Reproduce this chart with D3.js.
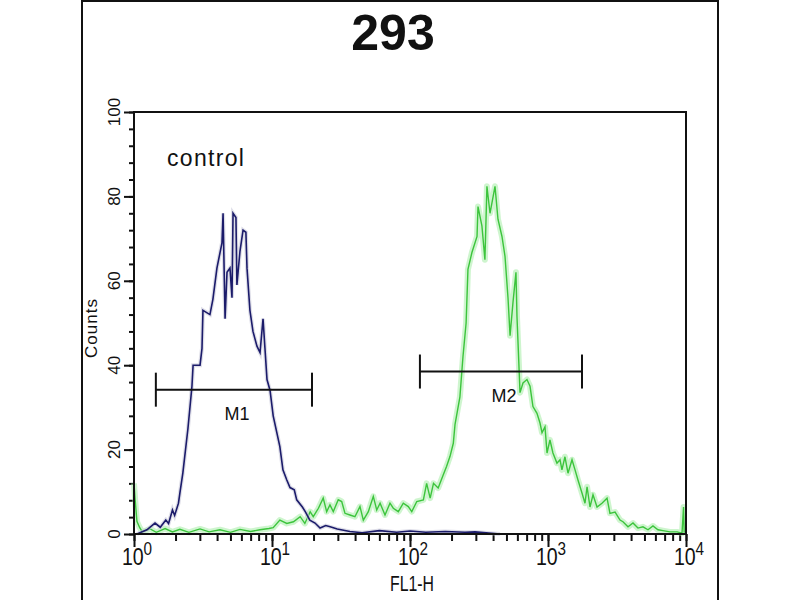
<!DOCTYPE html>
<html>
<head>
<meta charset="utf-8">
<script src="https://cdn.jsdelivr.net/npm/d3@7"></script>
<style>
  body { margin: 0; background: #fff; }
  svg { display: block; font-family: "Liberation Sans", Arial, sans-serif; }
</style>
</head>
<body>
<svg id="chart" width="800" height="600"></svg>
<script>
// Histogram data (FL1-H intensity, counts)
const controlFL1 = [1.05, 1.24, 1.42, 1.55, 1.7, 1.78, 1.9, 1.97, 2.1, 2.15, 2.26, 2.46, 2.63, 2.68, 3.01, 3.11, 3.16, 3.55, 3.73,
  3.99, 4.34, 4.42, 4.57, 4.72, 4.96, 5.13, 5.22, 5.48, 5.57, 5.86, 6.17, 6.47, 6.59, 6.92, 7.28, 7.78, 8.19,
  8.61, 8.89, 9.2, 9.68, 10.2, 11.4, 12.0, 12.8, 13.5, 14.5, 15.1, 16.6, 17.5, 18.8, 20.5, 22.3, 24.5, 26.4, 29.7,
  36.7, 45, 60, 80, 100, 130, 180, 250, 296, 449];
const controlCounts = [0, 1, 2.6, 1.6, 3.3, 2.5, 5.7, 4.4, 7.3, 9.7, 14.5, 25, 35, 40, 40, 44, 53, 52, 55.6,
  63, 69, 76, 51, 62, 63, 56, 76, 75, 59, 67, 72, 71.5, 63, 53, 48, 44.5, 43,
  51, 44, 36.6, 34, 28, 20.7, 15.2, 12.8, 11, 10.5, 8.1, 6.4, 5.2, 3.3, 2.6, 1.4, 2, 1.7, 1.2,
  0.6, 0.3, 0.8, 0.4, 0.7, 0.4, 0.6, 0.4, 0.5, 0];

const sampleFL1 = [1.0, 1.02, 1.05, 1.1, 1.15, 1.31, 1.45, 1.68, 1.9, 2.15, 2.5, 3.01, 3.5, 4.2, 5.0, 5.86, 7.0, 8.19, 9.5, 10.2,
  11.4, 12.8, 14.3, 16.0, 17.3, 18.9, 19.9, 21.7, 23.5, 24.9, 26.3, 27.8, 30.2, 32.0, 33.8, 36.7, 39.9, 43.4, 45.9,
  49.9, 54.2, 57.4, 60.7, 65.9, 71.6, 75.7, 82.3, 89.4, 97.2, 103, 112, 125, 132, 140, 148, 160, 174, 184, 195, 206,
  212, 230, 242, 255, 263, 281, 306, 311, 332, 349, 361, 380, 413, 434, 464, 488, 513, 531, 558, 586, 596,
  627, 659, 704, 741, 778, 832, 875, 905, 951, 984, 1033, 1086, 1161, 1222, 1262, 1327, 1396, 1493, 1570, 1649,
  1763, 1854, 1919, 2015, 2119, 2266, 2461, 2678, 2812, 3062, 3326, 3494, 3800, 4129, 4487, 4876, 5303, 5763,
  6263, 6806, 7656, 8610, 9355, 9600, 9700];
const sampleCounts = [12, 8, 3, 1.5, 0.5, 1.2, 0.4, 1.3, 0.5, 1.1, 0.4, 1.2, 0.5, 1.0, 0.4, 1.1, 0.6, 1.0, 1.3, 1.5,
  3.3, 2.5, 2.9, 4.1, 2.5, 5.3, 4.1, 6.1, 8.5, 5.3, 6.9, 5.3, 8.1, 7.7, 4.9, 4.5, 4.1, 6.5, 3.3,
  5.3, 8.9, 5.7, 7.3, 4.5, 7.3, 6.1, 5.3, 7.3, 6.5, 5.3, 7.7, 8.1, 12, 8.5, 12, 10.9, 14, 16, 18.4, 21.5,
  26, 32.5, 42, 50, 62.7, 66.7, 70.5, 77.6, 73, 65, 82.4, 76, 82.4, 74.6, 70.5, 65.8, 56, 47, 55, 62, 51.5,
  33.5, 35.8, 36.6, 35, 30.2, 28.6, 26.3, 24, 25.4, 19.2, 22.3, 19.2, 16.8, 17.6, 15.2, 18.3, 14.4, 17.6, 15.2, 12.8,
  9.7, 7.3, 11.2, 6.4, 9.3, 6.4, 7.3, 8.5, 4.9, 5.2, 3.3, 2.9, 1.7, 2.6, 1.4, 1.7, 1, 1.9,
  1, 0.8, 0.5, 0.5, 0.2, 6.4, 0.3];

// Marker gates: [from, to, count level]
const markerNames = ["M1", "M2"];
const markerFrom = [1.44, 118];
const markerTo = [19.5, 1763];
const markerLevel = [34.2, 38.5];

const yMajorTicks = [0, 20, 40, 60, 80, 100];
const xMajorTicks = [1, 10, 100, 1000, 10000];
const xTickExponents = ["0", "1", "2", "3", "4"];

const svg = d3.select("#chart");

// outer frame
svg.append("rect")
  .attr("x", 82).attr("y", 1)
  .attr("width", 636).attr("height", 640)
  .attr("fill", "none").attr("stroke", "#111").attr("stroke-width", 2);

const x = d3.scaleLog().domain([1, 10000]).range([134, 686]);
const y = d3.scaleLinear().domain([0, 100]).range([534, 112]);

// title
svg.append("text")
  .attr("x", 393).attr("y", 50)
  .attr("text-anchor", "middle")
  .attr("font-size", 50).attr("font-weight", "bold")
  .attr("fill", "#111")
  .text("293");

// y axis: minor ticks every 4, majors every 20
svg.append("g")
  .attr("transform", "translate(134,0)")
  .call(d3.axisLeft(y).tickValues(d3.range(0, 101, 4)).tickSize(5).tickFormat(""))
  .call(g => g.select(".domain").remove())
  .selectAll("line").attr("stroke", "#111").attr("stroke-width", 2);

svg.append("g")
  .attr("transform", "translate(134,0)")
  .call(d3.axisLeft(y).tickValues(yMajorTicks).tickSize(10).tickFormat(""))
  .call(g => g.select(".domain").remove())
  .selectAll("line").attr("stroke", "#111").attr("stroke-width", 2);

svg.selectAll(".ylab")
  .data(yMajorTicks)
  .enter()
  .append("text")
  .attr("transform", d => `translate(120,${y(d)}) rotate(-90)`)
  .attr("text-anchor", "middle")
  .attr("font-size", 17)
  .attr("fill", "#111")
  .text(d => d);

// x axis: log minor + major ticks
svg.append("g")
  .attr("transform", "translate(0,534)")
  .call(d3.axisBottom(x).tickValues(x.ticks()).tickSize(7).tickFormat(""))
  .call(g => g.select(".domain").remove())
  .selectAll("line").attr("stroke", "#111").attr("stroke-width", 2);

svg.append("g")
  .attr("transform", "translate(0,534)")
  .call(d3.axisBottom(x).tickValues(xMajorTicks).tickSize(13).tickFormat(""))
  .call(g => g.select(".domain").remove())
  .selectAll("line").attr("stroke", "#111").attr("stroke-width", 2);

const xl = svg.selectAll(".xlab")
  .data(xMajorTicks)
  .enter()
  .append("text")
  .attr("transform", d => `translate(${x(d) + 3},565) scale(0.85,1)`)
  .attr("text-anchor", "middle")
  .attr("font-size", 23)
  .attr("fill", "#111");
xl.append("tspan").text("10");
xl.append("tspan")
  .attr("font-size", 18)
  .attr("dy", -10)
  .text((d, i) => xTickExponents[i]);

// axis titles
svg.append("text")
  .attr("transform", "translate(412,591) scale(0.72,1)")
  .attr("text-anchor", "middle")
  .attr("font-size", 22)
  .attr("fill", "#111")
  .text("FL1-H");

svg.append("text")
  .attr("transform", "translate(97,328) rotate(-90)")
  .attr("text-anchor", "middle")
  .attr("font-size", 17)
  .attr("letter-spacing", 1)
  .attr("fill", "#111")
  .text("Counts");

// histograms
const line = (xs, ys) => d3.line()
  .x((d, i) => x(xs[i]))
  .y((d, i) => y(ys[i]))(ys);

svg.append("path")
  .attr("d", line(sampleFL1, sampleCounts))
  .attr("fill", "none")
  .attr("stroke", "#a6eca6")
  .attr("stroke-opacity", 0.55)
  .attr("stroke-width", 6)
  .attr("stroke-linejoin", "round");

svg.append("path")
  .attr("d", line(sampleFL1, sampleCounts))
  .attr("fill", "none")
  .attr("stroke", "#3cc43c")
  .attr("stroke-width", 1.4);

svg.append("path")
  .attr("d", line(controlFL1, controlCounts))
  .attr("fill", "none")
  .attr("stroke", "#c8c8d8")
  .attr("stroke-opacity", 0.6)
  .attr("stroke-width", 4);

svg.append("path")
  .attr("d", line(controlFL1, controlCounts))
  .attr("fill", "none")
  .attr("stroke", "#1b1b6a")
  .attr("stroke-width", 1.6);

// plot frame
svg.append("rect")
  .attr("x", 134).attr("y", 112)
  .attr("width", 552).attr("height", 422)
  .attr("fill", "none").attr("stroke", "#111").attr("stroke-width", 2);

// markers
const markers = svg.selectAll(".marker")
  .data(markerNames)
  .enter()
  .append("g")
  .attr("stroke", "#111")
  .attr("stroke-width", 2);

markers.append("line")
  .attr("x1", (d, i) => x(markerFrom[i]))
  .attr("x2", (d, i) => x(markerTo[i]))
  .attr("y1", (d, i) => y(markerLevel[i]))
  .attr("y2", (d, i) => y(markerLevel[i]));

markers.append("line")
  .attr("x1", (d, i) => x(markerFrom[i]))
  .attr("x2", (d, i) => x(markerFrom[i]))
  .attr("y1", (d, i) => y(markerLevel[i]) - 17)
  .attr("y2", (d, i) => y(markerLevel[i]) + 17);

markers.append("line")
  .attr("x1", (d, i) => x(markerTo[i]))
  .attr("x2", (d, i) => x(markerTo[i]))
  .attr("y1", (d, i) => y(markerLevel[i]) - 17)
  .attr("y2", (d, i) => y(markerLevel[i]) + 17);

markers.append("text")
  .attr("x", (d, i) => (x(markerFrom[i]) + x(markerTo[i])) / 2 + 3)
  .attr("y", (d, i) => y(markerLevel[i]) + 30)
  .attr("text-anchor", "middle")
  .attr("font-size", 18)
  .attr("stroke", "none")
  .attr("fill", "#111")
  .text(d => d);

// control label
svg.append("text")
  .attr("x", 167).attr("y", 166)
  .attr("font-size", 23)
  .attr("letter-spacing", 1.3)
  .attr("fill", "#111")
  .text("control");
</script>
</body>
</html>
